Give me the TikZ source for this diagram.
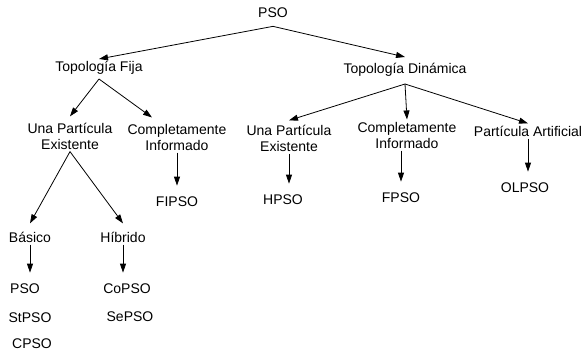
\documentclass[tikz,border=0pt]{standalone}
\usepackage{fontspec}
\setmainfont{Liberation Sans}
\usetikzlibrary{arrows.meta}
\tikzstyle{lbl} = [draw=none, inner sep=2pt, align=center]
\tikzstyle{shortdown} = [shorten >=9pt]

\begin{document}
\begin{tikzpicture}[->,>={Triangle[length=9pt,width=6pt]},line width=0.8pt,
    x=1pt,y=-1pt,font=\fontsize{14}{16}\selectfont]
    \useasboundingbox (0,0) rectangle (584,355);

    \node [lbl, name = root] at (273,13) {PSO};
    \node [lbl, name = fija] at (99,68) {Topología Fija};
    \node [lbl, name = din] at (405,70) {Topología Dinámica};

    \node [lbl, name = unaf] at (70,136) {Una Partícula\\Existente};
    \node [lbl, name = compf] at (177,137) {Completamente\\Informado};
    \node [lbl, name = unad] at (289,138) {Una Partícula\\Existente};
    \node [lbl, name = compd] at (407,135) {Completamente\\Informado};
    \node [lbl, name = artif] at (528,131) {Partícula Artificial};

    \node [lbl, name = fipso] at (177,202) {FIPSO};
    \node [lbl, name = hpso] at (283,200) {HPSO};
    \node [lbl, name = fpso] at (401,198) {FPSO};
    \node [lbl, name = olpso] at (525,188) {OLPSO};

    \node [lbl, name = basico] at (30,237) {Básico};
    \node [lbl, name = hibrido] at (123,237) {Híbrido};

    \node [lbl, name = pso] at (25,289) {PSO};
    \node [lbl, name = stpso] at (30,318) {StPSO};
    \node [lbl, name = cpso] at (32,344) {CPSO};
    \node [lbl, name = copso] at (127,289) {CoPSO};
    \node [lbl, name = sepso] at (130,317) {SePSO};

    \draw [->] ([yshift=-6pt]root.south) -- (fija.north);
    \draw [->] ([yshift=-6pt]root.south) -- ([yshift=4pt]din.north);
    \draw [->] ([yshift=-2pt]fija.south) -- ([yshift=4pt]unaf.north);
    \draw [->] ([yshift=-2pt]fija.south) -- ([xshift=-25pt,yshift=4pt]compf.north);
    \draw [->] ([yshift=-5pt]din.south) -- ([yshift=2pt]unad.north);
    \draw [->] ([yshift=-5pt]din.south) -- (compd.north);
    \draw [->] ([yshift=-5pt]din.south) -- (artif.north);
    \draw [->] (unaf.south) -- ([yshift=6pt]basico.north);
    \draw [->] (unaf.south) -- ([yshift=6pt]hibrido.north);
    \draw [->, shortdown] (compf.south) -- (compf.south |- fipso.north);
    \draw [->, shortdown] (unad.south) -- (unad.south |- hpso.north);
    \draw [->, shortdown] (fpso.north |- compd.south) -- (fpso.north);
    \draw [->, shortdown] (artif.south) -- (artif.south |- olpso.north);
    \draw [->, shortdown] (basico.south) -- (basico.south |- pso.north);
    \draw [->, shortdown] (hibrido.south) -- (hibrido.south |- copso.north);

\end{tikzpicture}
\end{document}
